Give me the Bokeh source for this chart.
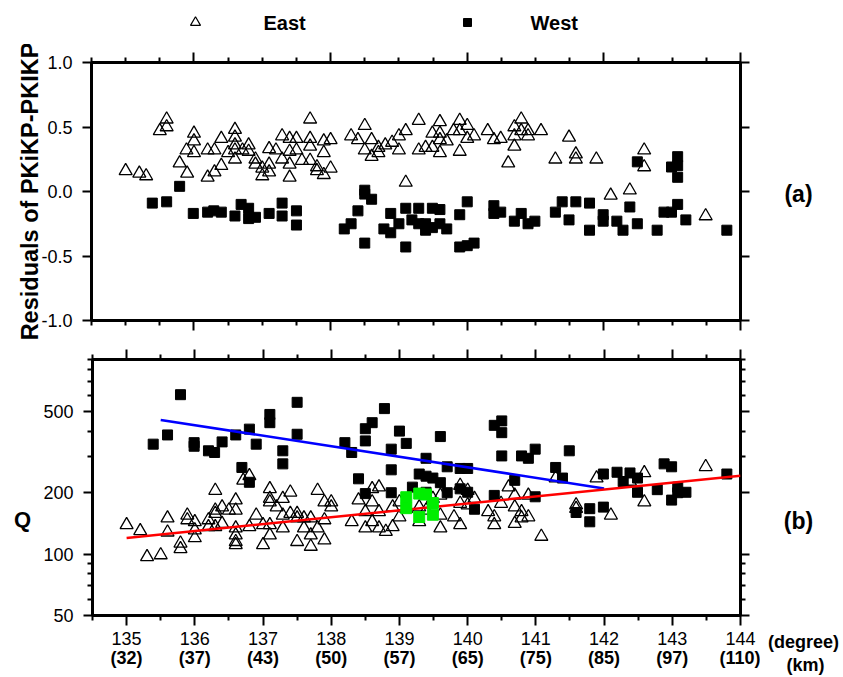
from bokeh.plotting import figure
from bokeh.models import (Range1d, FixedTicker, LinearAxis, LogAxis, PrintfTickFormatter)
from bokeh.layouts import column, row
from bokeh.embed import file_html
from bokeh.resources import INLINE
from bokeh.core.properties import value

FONT = "Liberation Sans"

# ---------------- data: panel (a) residuals ----------------
east_a_deg = [135.0, 135.2, 135.3, 135.5, 135.6, 135.6, 135.79, 135.89, 135.9, 136.0,
              136.0, 136.0, 136.2, 136.2, 136.3, 136.3, 136.4, 136.4, 136.5, 136.6,
              136.6, 136.6, 136.6, 136.6, 136.71, 136.8, 136.8, 136.9, 136.9, 137.0,
              137.0, 137.1, 137.1, 137.1, 137.2, 137.29, 137.29, 137.4, 137.4, 137.4,
              137.4, 137.5, 137.5, 137.58, 137.7, 137.7, 137.7, 137.7, 137.8, 137.8,
              137.9, 137.9, 137.9, 138.0, 138.0, 138.3, 138.4, 138.5, 138.5, 138.6,
              138.6, 138.7, 138.7, 138.8, 138.9, 139.0, 139.0, 139.1, 139.1, 139.29,
              139.29, 139.39, 139.49, 139.49, 139.6, 139.6, 139.6, 139.7, 139.8, 139.89,
              139.89, 139.89, 140.0, 140.0, 140.1, 140.3, 140.39, 140.49, 140.69, 140.69,
              140.69, 140.6, 140.79, 140.79, 140.89, 140.89, 141.08, 141.49, 141.29, 141.59,
              141.59, 141.89, 142.1, 142.38, 142.59, 142.59, 143.49, 139.6]
east_a_res = [0.16, 0.14, 0.12, 0.47, 0.56, 0.50, 0.22, 0.32, 0.14, 0.45,
              0.39, 0.30, 0.32, 0.11, 0.32, 0.15, 0.41, 0.20, 0.30, 0.48,
              0.42, 0.36, 0.32, 0.25, 0.32, 0.36, 0.31, 0.25, 0.21, 0.18,
              0.12, 0.33, 0.21, 0.15, 0.32, 0.43, 0.25, 0.41, 0.31, 0.21,
              0.11, 0.41, 0.32, 0.24, 0.56, 0.41, 0.35, 0.24, 0.19, 0.16,
              0.39, 0.30, 0.13, 0.40, 0.18, 0.43, 0.40, 0.51, 0.32, 0.40,
              0.27, 0.34, 0.30, 0.36, 0.38, 0.43, 0.32, 0.47, 0.07, 0.55,
              0.32, 0.34, 0.45, 0.34, 0.54, 0.45, 0.30, 0.39, 0.47, 0.55,
              0.47, 0.31, 0.51, 0.41, 0.43, 0.47, 0.40, 0.41, 0.50, 0.43,
              0.35, 0.22, 0.56, 0.47, 0.47, 0.43, 0.47, 0.42, 0.25, 0.29,
              0.25, 0.25, -0.03, 0.01, 0.32, 0.19, -0.19, 0.40]

west_a_deg = [135.39, 135.6, 135.79, 135.99, 136.2, 136.29, 136.4, 136.6, 136.69, 136.8,
              136.8, 136.9, 137.1, 137.29, 137.29, 137.5, 137.5, 138.2, 138.3, 138.4,
              138.5, 138.5, 138.6, 138.5, 138.78, 138.88, 138.88, 139.0, 139.1, 139.1,
              139.19, 139.29, 139.29, 139.39, 139.39, 139.49, 139.49, 139.6, 139.6, 139.7,
              139.89, 139.89, 140.0, 140.0, 140.1, 140.39, 140.39, 140.49, 140.69, 140.79,
              140.89, 140.99, 141.29, 141.39, 141.49, 141.59, 141.79, 141.79, 141.99, 141.99,
              142.19, 142.28, 142.38, 142.49, 142.49, 142.78, 142.88, 142.99, 142.99, 143.08,
              143.08, 143.08, 143.08, 143.2, 143.8]
west_a_res = [-0.09, -0.08, 0.04, -0.17, -0.16, -0.15, -0.16, -0.19, -0.10, -0.13,
              -0.21, -0.20, -0.17, -0.09, -0.19, -0.15, -0.26, -0.29, -0.25, -0.15,
              0.01, -0.02, -0.06, -0.40, -0.29, -0.17, -0.32, -0.25, -0.13, -0.43,
              -0.22, -0.13, -0.25, -0.30, -0.25, -0.13, -0.28, -0.14, -0.25, -0.29,
              -0.18, -0.43, -0.08, -0.42, -0.40, -0.11, -0.17, -0.16, -0.23, -0.17,
              -0.25, -0.23, -0.16, -0.08, -0.22, -0.08, -0.09, -0.30, -0.18, -0.23,
              -0.23, -0.30, -0.12, -0.25, 0.23, -0.30, -0.16, -0.16, 0.19, 0.27,
              0.20, 0.11, -0.10, -0.22, -0.30]

# ---------------- data: panel (b) Q ----------------
east_b_deg = [135.0, 135.2, 135.3, 135.5, 135.6, 135.6, 135.79, 135.79, 135.89, 135.89,
              136.0, 136.0, 136.0, 136.2, 136.2, 136.3, 136.3, 136.3, 136.3, 136.4,
              136.4, 136.5, 136.6, 136.6, 136.6, 136.6, 136.6, 136.6, 136.71, 136.8,
              136.8, 136.9, 137.0, 137.0, 137.1, 137.1, 137.1, 137.1, 137.1, 137.2,
              137.29, 137.29, 137.29, 137.4, 137.4, 137.5, 137.5, 137.5, 137.6, 137.6,
              137.7, 137.7, 137.7, 137.8, 137.8, 137.9, 137.9, 137.9, 138.0, 138.0,
              138.3, 138.4, 138.5, 138.5, 138.6, 138.6, 138.6, 138.7, 138.7, 138.7,
              138.8, 138.9, 138.9, 139.0, 139.0, 139.1, 139.29, 139.29, 139.39, 139.49,
              139.6, 139.6, 139.8, 139.89, 139.89, 139.89, 140.0, 140.0, 140.1, 140.3,
              140.39, 140.39, 140.49, 140.6, 140.69, 140.69, 140.69, 140.79, 140.79, 140.89,
              140.89, 141.08, 141.29, 141.59, 141.59, 141.89, 142.1, 142.38, 142.59, 142.59,
              143.49, 139.6]
east_b_q = [139, 130, 97, 99, 150, 128, 113, 106, 155, 147,
            144, 120, 131, 147, 136, 205, 164, 158, 136, 170,
            141, 164, 184, 164, 134, 124, 115, 111, 230, 242,
            136, 155, 139, 111, 209, 187, 180, 139, 124, 170,
            187, 155, 134, 201, 158, 158, 150, 115, 150, 134,
            150, 124, 109, 205, 134, 180, 147, 117, 180, 170,
            144, 184, 161, 134, 209, 180, 144, 213, 161, 134,
            129, 170, 136, 180, 152, 167, 170, 144, 164, 187,
            155, 134, 152, 217, 177, 139, 205, 174, 187, 161,
            152, 139, 177, 213, 194, 170, 141, 161, 150, 194,
            152, 122, 236, 174, 167, 236, 155, 227, 250, 180,
            268, 194]

west_b_deg = [135.39, 135.6, 135.79, 135.99, 135.99, 136.2, 136.29, 136.4, 136.6, 136.69,
              136.8, 136.8, 136.9, 137.1, 137.1, 137.29, 137.29, 137.5, 137.5, 138.2,
              138.3, 138.4, 138.5, 138.5, 138.5, 138.6, 138.78, 138.88, 138.88, 138.88,
              139.0, 139.1, 139.19, 139.29, 139.39, 139.39, 139.39, 139.49, 139.6, 139.6,
              139.7, 139.7, 139.89, 139.89, 140.0, 140.0, 140.1, 140.39, 140.39, 140.5,
              140.5, 140.5, 140.69, 140.79, 140.89, 140.99, 140.99, 141.29, 141.39, 141.49,
              141.59, 141.79, 141.79, 141.99, 141.99, 142.19, 142.28, 142.38, 142.49, 142.49,
              142.78, 142.88, 142.99, 142.99, 143.08, 143.08, 143.2, 143.8]
west_b_q = [346, 384, 605, 352, 338, 321, 315, 355, 384, 266,
            410, 225, 346, 484, 441, 321, 277, 555, 387, 352,
            315, 234, 412, 359, 198, 441, 517, 327, 259, 200,
            401, 349, 213, 247, 295, 241, 201, 236, 377, 224,
            268, 200, 263, 209, 263, 201, 166, 428, 194, 450,
            394, 303, 230, 303, 295, 327, 191, 266, 236, 321,
            160, 167, 144, 247, 170, 252, 227, 250, 236, 201,
            207, 277, 268, 184, 213, 200, 201, 247]

green_deg = [139.1, 139.1, 139.29, 139.39, 139.29, 139.49, 139.49]
green_q = [190, 168, 198, 196, 152, 178, 156]

blue_deg = [135.5, 142.0]
blue_q = [455, 210]
red_deg = [135.0, 144.0]
red_q = [120, 242]

# ---------------- tick values / labels ----------------
deg_ticks = [135, 136, 137, 138, 139, 140, 141, 142, 143, 144]
km_labels = ["(32)", "(37)", "(43)", "(50)", "(57)", "(65)", "(75)", "(85)", "(97)", "(110)"]
res_ticks = [-1.0, -0.5, 0.0, 0.5, 1.0]
q_ticks = [50, 100, 200, 500]
q_minor = [60, 70, 80, 90, 300, 400, 600, 700, 800, 900]
top_major = [136, 138, 140, 142, 144]
top_minor = [134.5, 135, 135.5, 136.5, 137, 137.5, 138.5, 139, 139.5,
             140.5, 141, 141.5, 142.5, 143, 143.5]
bot_minor = [134.5, 135.5, 136.5, 137.5, 138.5, 139.5, 140.5, 141.5, 142.5, 143.5]

COMMON = dict(output_backend="svg", toolbar_location=None, title=None,
              x_axis_location=None, y_axis_location=None,
              background_fill_color="white", border_fill_color="white")


def blank_fig(w, h, xr, yr, top=0, bottom=0):
    p = figure(width=w, height=h, x_range=Range1d(*xr), y_range=Range1d(*yr),
               min_border=0, min_border_left=0, min_border_right=0,
               min_border_top=top, min_border_bottom=bottom, **COMMON)
    p.outline_line_color = None
    p.grid.visible = False
    return p


def panel_fig(w, h, left, right, top, bottom, yr, ylog=False):
    kw = dict(COMMON)
    if ylog:
        kw["y_axis_type"] = "log"
    p = figure(width=w, height=h, x_range=Range1d(134.5, 144), y_range=yr,
               min_border_left=left, min_border_right=right,
               min_border_top=top, min_border_bottom=bottom, **kw)
    p.outline_line_color = "black"
    p.outline_line_width = 3
    p.grid.visible = False
    return p


def add_axis(p, side, cls, ticks, minor, fmt, show, major_out=10, minor_out=5,
             standoff=8, size="18px"):
    ax = cls(ticker=FixedTicker(ticks=ticks, minor_ticks=minor),
             formatter=PrintfTickFormatter(format=fmt))
    ax.axis_line_color = None
    ax.major_tick_in = 0
    ax.major_tick_out = major_out
    ax.minor_tick_in = 0
    ax.minor_tick_out = minor_out
    ax.major_tick_line_width = 2
    ax.minor_tick_line_width = 2
    ax.major_tick_line_color = "black"
    ax.minor_tick_line_color = "black"
    if show:
        ax.major_label_text_font = FONT
        ax.major_label_text_font_size = size
        ax.major_label_text_color = "black"
        ax.major_label_standoff = standoff
    else:
        ax.major_label_text_font_size = "1px"
        ax.major_label_text_color = None
        ax.major_label_standoff = 0
    p.add_layout(ax, side)
    return ax


def put_text(p, x, y, t, size, bold=True, align="center", angle=0.0):
    p.text(x=[x], y=[y], text=[t], angle=angle, text_font=value(FONT),
           text_font_style="bold" if bold else "normal", text_font_size=size,
           text_align=align, text_baseline="middle", text_color="black")


# ---------------- legend strip (page px coords) ----------------
pl = blank_fig(843, 44, (0, 843), (44, 0))
pl.scatter([195], [22], marker="triangle", size=10, fill_color=None,
           line_color="black", line_width=1.2)
pl.scatter([467], [22], marker="square", size=8, fill_color="black", line_color="black")
put_text(pl, 263, 22, "East", "20px", align="left")
put_text(pl, 530, 22, "West", "20px", align="left")

# ---------------- panel (a) ----------------
p1 = panel_fig(760, 296, 91, 20, 18, 20, Range1d(-1, 1))
add_axis(p1, "above", LinearAxis, top_major, top_minor, "%d", False)
add_axis(p1, "below", LinearAxis, top_major, top_minor, "%d", False)
ya = add_axis(p1, "left", LinearAxis, res_ticks, [], "%.1f", True, major_out=9, standoff=10)
ya.axis_label = "Residuals of PKiKP-PKIKP"
ya.axis_label_text_font = FONT
ya.axis_label_text_font_style = "bold"
ya.axis_label_text_font_size = "23.5px"
ya.axis_label_text_color = "black"
ya.axis_label_standoff = -5
add_axis(p1, "right", LinearAxis, res_ticks, [], "%.1f", False, major_out=9)

p1.scatter(west_a_deg, west_a_res, marker="square", size=10, fill_color="black",
           line_color="black")
p1.scatter(east_a_deg, east_a_res, marker="triangle", size=13, fill_color=None,
           line_color="black", line_width=1.3)

# side figure: its frame is aligned with p1's frame (page y 62..320)
side1 = blank_fig(83, 296, (760, 843), (320, 62), top=18, bottom=20)
put_text(side1, 798, 193, "(a)", "23px")

# ---------------- panel (b) ----------------
# side figures aligned with p2's frame (page y 359..618)
qfig = blank_fig(40, 337, (0, 40), (618, 359), top=19, bottom=59)
put_text(qfig, 22, 521, "Q", "22px")

p2 = panel_fig(720, 337, 51, 20, 19, 59, Range1d(50, 900), ylog=True)
add_axis(p2, "above", LinearAxis, deg_ticks, bot_minor, "%d", False)
add_axis(p2, "below", LinearAxis, deg_ticks, bot_minor, "%d", True, standoff=6)
km_ax = add_axis(p2, "below", LinearAxis, deg_ticks, [], "%d", True, major_out=0,
                 minor_out=0, standoff=0)
km_ax.major_label_overrides = {d: k for d, k in zip(deg_ticks, km_labels)}
km_ax.major_label_text_font_style = "bold"
add_axis(p2, "left", LogAxis, q_ticks, q_minor, "%d", True, major_out=9, standoff=10)
add_axis(p2, "right", LogAxis, q_ticks, q_minor, "%d", False, major_out=9)

p2.scatter(west_b_deg, west_b_q, marker="square", size=10, fill_color="black",
           line_color="black")
p2.scatter(east_b_deg, east_b_q, marker="triangle", size=13, fill_color=None,
           line_color="black", line_width=1.3)
p2.line(blue_deg, blue_q, line_color="#0000ff", line_width=2.5)
p2.line(red_deg, red_q, line_color="#ff0000", line_width=2.5)
p2.scatter(green_deg, green_q, marker="square", size=11, fill_color="#00ee00",
           line_color="#00ee00")

side2 = blank_fig(83, 337, (760, 843), (618, 359), top=19, bottom=59)
put_text(side2, 798, 522, "(b)", "23px")
deg_ax = add_axis(side2, "below", LinearAxis, [803], [], "%d", True, major_out=10,
                  minor_out=0, standoff=6)
deg_ax.major_label_overrides = {803: "(degree)"}
deg_ax.major_label_text_font_style = "bold"
deg_ax.major_tick_line_color = None
unit_ax = add_axis(side2, "below", LinearAxis, [805], [], "%d", True, major_out=0,
                   minor_out=0, standoff=0)
unit_ax.major_label_overrides = {805: "(km)"}
unit_ax.major_label_text_font_style = "bold"

layout = column(pl, row(p1, side1), row(qfig, p2, side2))
open("out.html", "w").write(file_html(layout, INLINE))
